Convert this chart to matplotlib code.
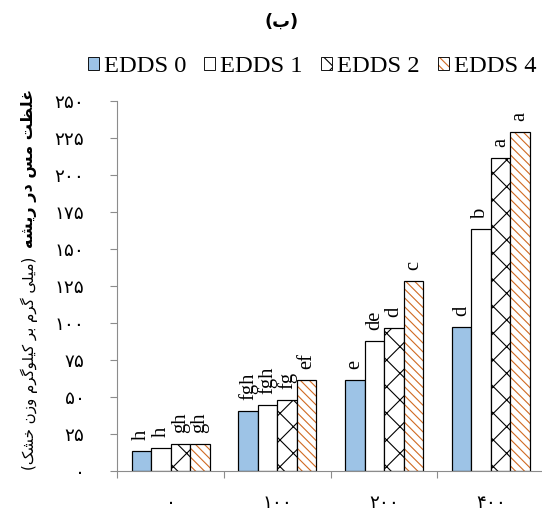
import matplotlib

matplotlib.use("Agg")
import matplotlib.pyplot as plt
import numpy as np
from matplotlib.patches import Patch
from matplotlib.legend_handler import HandlerTuple

# --- data --------------------------------------------------------------------
doses = ["۰", "۱۰۰", "۲۰۰", "۴۰۰"]
series = ["EDDS 0", "EDDS 1", "EDDS 2", "EDDS 4"]
edds0 = [13.7, 40.5, 61.3, 97.3]
edds1 = [15.5, 44.8, 87.6, 163.5]
edds2 = [18.5, 47.7, 96.6, 211.3]
edds4 = [18.3, 61.3, 128.5, 228.8]
letters0 = ["h", "fgh", "e", "d"]
letters1 = ["h", "fgh", "de", "b"]
letters2 = ["gh", "fg", "d", "a"]
letters4 = ["gh", "ef", "c", "a"]
yticks = list(range(0, 251, 25))
ytick_labels = ["۰", "۲۵", "۵۰", "۷۵", "۱۰۰", "۱۲۵", "۱۵۰", "۱۷۵", "۲۰۰", "۲۲۵", "۲۵۰"]

TITLE = "(ب)"
YLAB_MAIN = "غلظت مس در ریشه"
YLAB_UNIT = "(میلی گرم بر کیلوگرم وزن خشک)"

BLUE = "#9DC3E6"
ORANGE = "#D06A22"
GREY = "#8C8C8C"

# --- minimal Persian shaping (matplotlib has no bidi / joining) --------------
FORMS = {
    "ا": ("\uFE8D", "\uFE8E", None, None),
    "ب": ("\uFE8F", "\uFE90", "\uFE91", "\uFE92"),
    "ت": ("\uFE95", "\uFE96", "\uFE97", "\uFE98"),
    "خ": ("\uFEA5", "\uFEA6", "\uFEA7", "\uFEA8"),
    "د": ("\uFEA9", "\uFEAA", None, None),
    "ر": ("\uFEAD", "\uFEAE", None, None),
    "ز": ("\uFEAF", "\uFEB0", None, None),
    "س": ("\uFEB1", "\uFEB2", "\uFEB3", "\uFEB4"),
    "ش": ("\uFEB5", "\uFEB6", "\uFEB7", "\uFEB8"),
    "ظ": ("\uFEC5", "\uFEC6", "\uFEC7", "\uFEC8"),
    "غ": ("\uFECD", "\uFECE", "\uFECF", "\uFED0"),
    "ل": ("\uFEDD", "\uFEDE", "\uFEDF", "\uFEE0"),
    "م": ("\uFEE1", "\uFEE2", "\uFEE3", "\uFEE4"),
    "ن": ("\uFEE5", "\uFEE6", "\uFEE7", "\uFEE8"),
    "ه": ("\uFEE9", "\uFEEA", "\uFEEB", "\uFEEC"),
    "و": ("\uFEED", "\uFEEE", None, None),
    "ی": ("\uFBFC", "\uFBFD", "\uFBFE", "\uFBFF"),
    "ک": ("\uFB8E", "\uFB8F", "\uFB90", "\uFB91"),
    "گ": ("\uFB92", "\uFB93", "\uFB94", "\uFB95"),
}
MIRROR = {"(": ")", ")": "("}


def fa(text):
    out = []
    for i, ch in enumerate(text):
        if ch not in FORMS:
            out.append(ch)
            continue
        prev = text[i - 1] if i > 0 else ""
        nxt = text[i + 1] if i + 1 < len(text) else ""
        iso, fin, ini, med = FORMS[ch]
        j_prev = prev in FORMS and FORMS[prev][2] is not None
        j_next = ini is not None and nxt in FORMS
        if j_prev and j_next:
            out.append(med)
        elif j_prev:
            out.append(fin)
        elif j_next:
            out.append(ini)
        else:
            out.append(iso)
    return "".join(MIRROR.get(c, c) for c in reversed(out))


# --- figure ------------------------------------------------------------------
DPI = 80
fig = plt.figure(figsize=(542 / DPI, 517 / DPI), dpi=DPI)
ax = fig.add_axes([117.3 / 542, 46 / 517, 426.8 / 542, 370 / 517])
plt.rcParams["hatch.linewidth"] = 1.0

x = np.arange(len(doses))
w = 0.183
serif = "Liberation Serif"
values = [edds0, edds1, edds2, edds4]
letters = [letters0, letters1, letters2, letters4]

ax.bar(x - 1.5 * w, edds0, w, facecolor=BLUE, edgecolor="black", lw=1.1)
ax.bar(x - 0.5 * w, edds1, w, facecolor="white", edgecolor="black", lw=1.1)
ax.bar(x + 0.5 * w, edds2, w, facecolor="white", edgecolor="black",
       hatch="x", lw=1.1)
# orange hatch, black outline drawn on top
ax.bar(x + 1.5 * w, edds4, w, facecolor="white", edgecolor=ORANGE,
       hatch="\\\\\\", lw=0)
ax.bar(x + 1.5 * w, edds4, w, fill=False, edgecolor="black", lw=1.1)

for k, (vals, labs) in enumerate(zip(values, letters)):
    for xi, v, lab in zip(x, vals, labs):
        ax.annotate(lab, (xi + (k - 1.5) * w, v), xytext=(0, 10),
                    textcoords="offset points", rotation=90, ha="center",
                    va="bottom", fontsize=18.5, family=serif)

ax.set_xlim(-0.5, 3.5)
ax.set_ylim(0, 250)
ax.set_yticks(yticks, ytick_labels, fontsize=16.5, family="DejaVu Sans")
ax.tick_params(axis="y", direction="out", length=6.5, width=1, color=GREY, pad=23)
ax.set_xticks(np.arange(-0.5, 3.6, 1.0), [])
ax.set_xticks(x, doses, minor=True, fontsize=16.5, family="DejaVu Sans")
ax.tick_params(axis="x", which="major", direction="out", length=6.5, width=1,
               color=GREY)
ax.tick_params(axis="x", which="minor", length=0, pad=21)
for s in ("top", "right"):
    ax.spines[s].set_visible(False)
for s in ("left", "bottom"):
    ax.spines[s].set_color(GREY)
    ax.spines[s].set_linewidth(1)

# y label in two pieces: bold main text on top, smaller unit text below
fig.text(29 / 542, 1 - 168 / 517, fa(YLAB_MAIN), rotation=90, ha="center",
         va="center", fontsize=14.5, fontweight="bold", family="DejaVu Sans")
fig.text(29 / 542, 1 - 363 / 517, fa(YLAB_UNIT), rotation=90, ha="center",
         va="center", fontsize=13.5, family="DejaVu Sans")

fig.text(282 / 542, 1 - 22 / 517, fa(TITLE), ha="center", va="center",
         fontsize=16, fontweight="bold", family="DejaVu Sans")

handles = [
    Patch(facecolor=BLUE, edgecolor="black", lw=0.8),
    Patch(facecolor="white", edgecolor="black", lw=0.8),
    Patch(facecolor="white", edgecolor="black", hatch="x", lw=0.8),
    (Patch(facecolor="white", edgecolor=ORANGE, hatch="\\\\\\", lw=0),
     Patch(fill=False, edgecolor="black", lw=0.8)),
]
fig.legend(handles, series, loc="center", bbox_to_anchor=(312 / 542, 1 - 67 / 517),
           ncol=4, frameon=False, prop={"family": serif, "size": 22},
           handlelength=0.45, handleheight=0.45, handletextpad=0.2,
           columnspacing=0.75, borderaxespad=0,
           handler_map={tuple: HandlerTuple(ndivide=1)})

fig.savefig("out.png", dpi=DPI, facecolor="white")
